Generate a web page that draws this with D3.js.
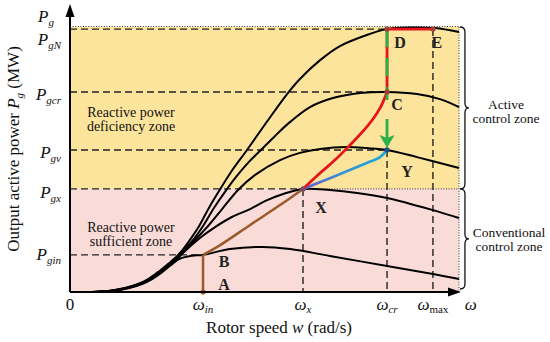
<!DOCTYPE html>
<html><head><meta charset="utf-8">
<script src="https://cdn.jsdelivr.net/npm/d3@7"></script>
<style>
body{margin:0;background:#fff}
svg{display:block}
</style>
</head><body>
<svg id="c" width="550" height="342"></svg>
<script>
// ---------- data (arbitrary normalised units, 0..100) ----------
const wIn = 34.2, wX = 59.9, wCr = 81.5, wMax = 93.3, wEnd = 100;
const pgTop = 100, pgN = 99.2, pgCr = 75.5, pgV = 53.6, pgX = 38.9, pgIn = 14.0;

// power curves Pg(w) for several wind speeds
const curve1 = [[6.4,0],[10.8,0.4],[15.2,1.5],[18.5,3.0],[21.1,4.9],[23.7,7.5],[26.0,10.2],[28.3,12.6],[31.4,13.7],[34.2,14.0],[41.1,16.2],[49.4,17.0],[56.6,16.2],[66.8,13.6],[81.5,9.8],[93.3,6.8],[100,4.9]];
const curve2 = [[6.2,0],[10.5,0.4],[14.9,1.5],[18.3,3.0],[20.8,4.9],[23.4,7.5],[25.7,10.2],[27.8,12.8],[29.6,15.5],[33.4,20.4],[37.3,24.5],[41.6,28.3],[46.3,31.3],[50.1,34.3],[54.8,37.0],[59.9,38.9],[66.8,38.5],[73.8,37.4],[81.5,35.5],[93.3,30.9],[100,27.9]];
const curve3 = [[5.9,0],[10.3,0.4],[14.7,1.5],[18.0,3.0],[20.6,4.9],[23.1,7.5],[25.4,10.2],[27.5,12.8],[29.0,15.1],[32.1,19.6],[35.5,24.9],[39.1,31.3],[43.2,38.5],[47.6,44.2],[54.0,49.8],[59.1,52.5],[64.3,54.0],[71.2,54.7],[76.3,54.3],[81.5,53.6],[89.2,50.9],[100,46.8]];
const curve4 = [[5.7,0],[10.0,0.4],[14.4,1.5],[17.7,3.0],[20.3,4.9],[22.9,7.5],[25.2,10.2],[27.2,12.8],[28.8,15.1],[31.4,19.2],[34.2,24.9],[37.0,31.7],[39.8,37.7],[42.9,43.8],[46.0,49.1],[49.1,53.6],[52.7,58.9],[56.6,64.2],[61.7,69.8],[67.6,73.2],[74.6,75.1],[81.5,75.5],[89.2,74.7],[95.1,72.8],[100,69.8]];
const curve5 = [[5.4,0],[9.8,0.4],[14.1,1.5],[17.5,3.0],[20.1,4.9],[22.6,7.5],[24.9,10.2],[27.0,12.8],[28.5,15.1],[30.8,19.6],[33.2,24.9],[35.7,31.7],[38.3,38.1],[41.4,45.3],[45.5,53.6],[50.4,63.8],[55.8,74.7],[59.1,80.4],[64.3,87.5],[69.4,92.8],[76.3,97.0],[81.5,99.2],[87.4,99.8],[93.8,99.6],[100,98.1]];
const powerCurves = [curve1, curve2, curve3, curve4, curve5];

// operating trajectories
const pathAB  = [[wIn,0],[wIn,pgIn]];
const pathBX  = [[wIn,pgIn],[38.6,17.7],[46.3,25.3],[54.0,32.8],[wX,pgX]];
const pathXC  = [[wX,pgX],[64.3,44.9],[68.1,49.8],[71.2,54.3],[76.3,62.3],[79.7,69.4],[wCr,pgCr]];
const pathXY  = [[wX,pgX],[67.6,43.4],[76.3,48.7],[79.7,50.9],[wCr,pgV]];
const pathDE  = [[wCr,pgN],[wMax,pgN]];

const yTicks = [
  {v:pgN, sub:"gN", dy:16},
  {v:pgCr, sub:"gcr", dy:8},
  {v:pgV, sub:"gv", dy:8},
  {v:pgX, sub:"gx", dy:9},
  {v:pgIn, sub:"gin", dy:5}
];
const xTicks = [
  {v:0, main:"0", sub:"", it:false},
  {v:wIn, main:"ω", sub:"in", it:true},
  {v:wX, main:"ω", sub:"x", it:true},
  {v:wCr, main:"ω", sub:"cr", it:true},
  {v:wMax, main:"ω", sub:"max", it:false},
  {v:103, main:"ω", sub:"", it:false}
];
const points = [
  {name:"A", w:wIn, p:0, dx:21, dy:-2},
  {name:"B", w:wIn, p:pgIn, dx:21, dy:12},
  {name:"X", w:wX, p:pgX, dx:18, dy:24},
  {name:"C", w:wCr, p:pgCr, dx:10, dy:18},
  {name:"D", w:wCr, p:pgN, dx:13, dy:19},
  {name:"E", w:wMax, p:pgN, dx:4, dy:19},
  {name:"Y", w:wCr, p:pgV, dx:20, dy:27}
];

// ---------- drawing ----------
const FONT = "'Liberation Serif', 'DejaVu Serif', serif";
const svg = d3.select("#c").attr("font-family", FONT).style("font-family", FONT);
const x = d3.scaleLinear().domain([0,100]).range([70,459]);
const y = d3.scaleLinear().domain([0,100]).range([292,27]);

const YELLOW = "#fce49c", PINK = "#f9dcd8";
const RED = "#e8141b", GREEN = "#2bb04a", BROWN = "#9a5a2c", BLUE = "#19acd6";

// zones
svg.append("rect").attr("x",x(0)).attr("y",y(pgTop)).attr("width",x(wEnd)-x(0)).attr("height",y(pgX)-y(pgTop)).attr("fill",YELLOW);
svg.append("rect").attr("x",x(0)).attr("y",y(pgX)).attr("width",x(wEnd)-x(0)).attr("height",y(0)-y(pgX)).attr("fill",PINK);

// dotted zone borders
const dotted = g => g.attr("stroke","#333").attr("stroke-width",1).attr("stroke-dasharray","1,1.6").attr("fill","none");
svg.append("line").attr("x1",x(0)).attr("x2",x(wEnd)).attr("y1",y(pgTop)-0.5).attr("y2",y(pgTop)-0.5).call(dotted);
svg.append("line").attr("x1",x(wEnd)).attr("x2",x(wEnd)).attr("y1",y(pgTop)).attr("y2",y(0)).call(dotted);
svg.append("line").attr("x1",x(wX)).attr("x2",x(wEnd)).attr("y1",y(pgX)).attr("y2",y(pgX)).call(dotted);

// dashed guide lines
const dashed = g => g.attr("stroke","#222").attr("stroke-width",1.4).attr("stroke-dasharray","7,4").attr("fill","none");
const hGuides = [[pgN,wCr],[pgCr,wCr],[pgV,wCr],[pgX,wX],[pgIn,wIn]];
hGuides.forEach(([p,w]) => svg.append("line").attr("x1",x(0)).attr("x2",x(w)).attr("y1",y(p)).attr("y2",y(p)).call(dashed));
const vGuides = [[wX,pgX],[wCr,pgV],[wMax,pgN]];
vGuides.forEach(([w,p]) => svg.append("line").attr("x1",x(w)).attr("x2",x(w)).attr("y1",y(p)).attr("y2",y(0)).call(dashed));

// power curves
const line = d3.line().x(d=>x(d[0])).y(d=>y(d[1])).curve(d3.curveCatmullRom.alpha(0.5));
const lineLin = d3.line().x(d=>x(d[0])).y(d=>y(d[1]));
powerCurves.forEach(c => svg.append("path").attr("d",line(c)).attr("fill","none").attr("stroke","#000").attr("stroke-width",2));

// blue gradient
const defs = svg.append("defs");
const grad = defs.append("linearGradient").attr("id","bg").attr("gradientUnits","userSpaceOnUse")
  .attr("x1",x(wX)).attr("x2",x(wCr)).attr("y1",0).attr("y2",0);
grad.append("stop").attr("offset","0").attr("stop-color","#6a5fd0");
grad.append("stop").attr("offset","0.45").attr("stop-color","#3c8fd8");
grad.append("stop").attr("offset","1").attr("stop-color",BLUE);

// trajectories
svg.append("path").attr("d",lineLin(pathAB)).attr("fill","none").attr("stroke",BROWN).attr("stroke-width",2.5);
svg.append("path").attr("d",line(pathBX)).attr("fill","none").attr("stroke",BROWN).attr("stroke-width",2.5);
svg.append("path").attr("d",line(pathXY)).attr("fill","none").attr("stroke","url(#bg)").attr("stroke-width",2.8);
svg.append("path").attr("d",line(pathXC)).attr("fill","none").attr("stroke",RED).attr("stroke-width",2.8);
svg.append("path").attr("d",lineLin(pathDE)).attr("fill","none").attr("stroke",RED).attr("stroke-width",2.8);

// C -> D: red with green dashes
svg.append("line").attr("x1",x(wCr)).attr("x2",x(wCr)).attr("y1",y(pgCr)).attr("y2",y(pgN)).attr("stroke",RED).attr("stroke-width",2.8);
svg.append("line").attr("x1",x(wCr)).attr("x2",x(wCr)).attr("y1",y(pgN)).attr("y2",y(pgCr)).attr("stroke",GREEN).attr("stroke-width",2.8).attr("stroke-dasharray","18,11");
// C -> Y green dashed arrow
svg.append("line").attr("x1",x(wCr)).attr("x2",x(wCr)).attr("y1",y(pgCr)+1).attr("y2",y(pgV)-12)
  .attr("stroke",GREEN).attr("stroke-width",2.8).attr("stroke-dasharray","7,19,40");
const ax = x(wCr), ay = y(pgV)-2;
svg.append("path").attr("d",`M${ax},${ay} L${ax-7.5},${ay-13} L${ax},${ay-10} L${ax+7.5},${ay-13} Z`).attr("fill",GREEN);

// dots
const dots = [[wIn,0,BROWN],[wX,pgX,"#7a4a6a"],[wCr,pgCr,"#a0403a"],[wCr,pgN,"#a0403a"],[wMax,pgN,"#a0403a"],[wCr,pgV,"#1f4e8c"]];
dots.forEach(([w,p,c]) => svg.append("circle").attr("cx",x(w)).attr("cy",y(p)).attr("r",2.6).attr("fill",c));

// axes
const xAxis = d3.axisBottom(x).tickValues([]).tickSizeOuter(0);
const yAxis = d3.axisLeft(y).tickValues([]).tickSizeOuter(0);
const gx = svg.append("g").attr("transform",`translate(0,${y(0)})`).call(xAxis);
const gy = svg.append("g").attr("transform",`translate(${x(0)},0)`).call(yAxis);
gx.select(".domain").attr("stroke","#000").attr("stroke-width",2).attr("d",`M${x(0)},0H${x(wEnd)-6}`);
gy.select(".domain").attr("stroke","#000").attr("stroke-width",2).attr("d",`M0,0V${y(pgTop)-y(0)-20}`).attr("transform",`translate(0,${y(0)})`);
// arrowheads
svg.append("path").attr("d",`M${x(0)},4 L${x(0)-4.5},17 L${x(0)+4.5},17 Z`).attr("fill","#000");
svg.append("path").attr("d",`M${x(wEnd)+2},${y(0)} L${x(wEnd)-11},${y(0)-4.5} L${x(wEnd)-11},${y(0)+4.5} Z`).attr("fill","#000");

// text helper
const T = sel => sel.attr("font-family", FONT).style("font-family", FONT).attr("fill","#111");

// y tick labels
yTicks.forEach(t => {
  const tx = svg.append("text").call(T).attr("x",61).attr("y",y(t.v)+t.dy).attr("text-anchor","end").attr("font-size",17).attr("font-style","italic");
  tx.append("tspan").text("P");
  tx.append("tspan").attr("font-size",11).attr("dy",4).text(t.sub);
});
{
  const tx = svg.append("text").call(T).attr("x",38).attr("y",22).attr("font-size",17).attr("font-style","italic");
  tx.append("tspan").text("P");
  tx.append("tspan").attr("font-size",11).attr("dy",4).text("g");
}
// x tick labels
xTicks.forEach(t => {
  const tx = svg.append("text").call(T).attr("x",x(t.v)).attr("y",310).attr("text-anchor","middle").attr("font-size",17);
  tx.append("tspan").attr("font-style", t.main==="0" ? "normal" : "italic").text(t.main);
  if (t.sub) tx.append("tspan").attr("font-size",11).attr("dy",3).attr("font-style",t.it?"italic":"normal").text(t.sub);
});

// axis titles
{
  const t = svg.append("text").call(T).attr("x",279).attr("y",333).attr("text-anchor","middle").attr("font-size",17);
  t.append("tspan").text("Rotor speed ");
  t.append("tspan").attr("font-style","italic").text("w");
  t.append("tspan").text(" (rad/s)");
}
{
  const t = svg.append("text").call(T).attr("transform","translate(19,149) rotate(-90)").attr("text-anchor","middle").attr("font-size",17);
  t.append("tspan").text("Output active power ");
  t.append("tspan").attr("font-style","italic").text("P");
  t.append("tspan").attr("font-size",11).attr("dy",4).attr("font-style","italic").text("g");
  t.append("tspan").attr("dy",-4).text(" (MW)");
}

// zone labels
const zoneText = (cx, y1, lines, fs) => lines.forEach((s,i) =>
  svg.append("text").call(T).attr("x",cx).attr("y",y1+i*13.5).attr("text-anchor","middle").attr("font-size",fs).text(s));
zoneText(131,117,["Reactive power","deficiency zone"],14);
zoneText(131,232,["Reactive power","sufficient zone"],14);
zoneText(506,109,["Active","control zone"],13.5);
zoneText(509,237,["Conventional","control zone"],13.5);

// braces
function brace(x0, y1, y2, w) {
  const ym = (y1+y2)/2, q = 5, xs = x0 + w*0.55;
  return `M${x0},${y1} Q${xs},${y1} ${xs},${y1+q} L${xs},${ym-q} Q${xs},${ym} ${x0+w},${ym} Q${xs},${ym} ${xs},${ym+q} L${xs},${y2-q} Q${xs},${y2} ${x0},${y2}`;
}
svg.append("path").attr("d",brace(x(wEnd)+1,y(pgTop),y(pgX),9)).attr("fill","none").attr("stroke","#111").attr("stroke-width",1.3);
svg.append("path").attr("d",brace(x(wEnd)+1,y(pgX),y(0)-3,9)).attr("fill","none").attr("stroke","#111").attr("stroke-width",1.3);

// point labels
points.forEach(p => svg.append("text").call(T).attr("x",x(p.w)+p.dx).attr("y",y(p.p)+p.dy).attr("text-anchor","middle")
  .attr("font-size",16).attr("font-weight","bold").attr("fill","#222").text(p.name));
</script>
</body></html>
